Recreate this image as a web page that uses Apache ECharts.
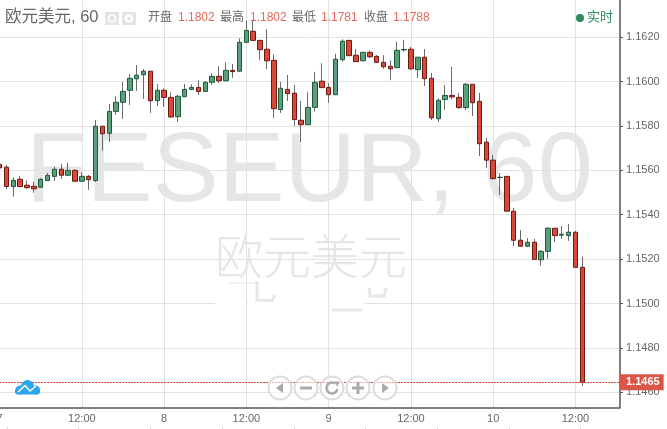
<!DOCTYPE html>
<html>
<head>
<meta charset="utf-8">
<title>欧元美元, 60</title>
<style>
  html, body { margin: 0; padding: 0; background: #fff; }
  #chart { width: 667px; height: 429px; }
</style>
<script src="https://cdn.jsdelivr.net/npm/echarts@6/dist/echarts.min.js"></script>
</head>
<body>
<div id="chart"></div>
<script>
// 小时K线数据
const opens = [1.15627,1.15614,1.15527,1.15560,1.15533,1.15528,1.15524,1.15554,1.15573,1.15605,1.15578,1.15600,1.15551,1.15573,1.15554,1.15799,1.15767,1.15866,1.15907,1.15961,1.16013,1.16031,1.16047,1.15914,1.15961,1.15929,1.15842,1.15932,1.15965,1.15974,1.15956,1.15997,1.16024,1.16004,1.16051,1.16047,1.16177,1.16227,1.16186,1.16146,1.16096,1.15874,1.15965,1.15948,1.15826,1.15806,1.15884,1.16002,1.15974,1.15941,1.16099,1.16186,1.16119,1.16094,1.16132,1.16114,1.16087,1.16069,1.16063,1.16143,1.16146,1.16054,1.16110,1.16015,1.15833,1.15919,1.15938,1.15929,1.15883,1.15988,1.15911,1.15727,1.15646,1.15568,1.15573,1.15416,1.15285,1.15258,1.15276,1.15197,1.15235,1.15339,1.15308,1.15306,1.15321,1.15163];
const closes = [1.15611,1.15527,1.15555,1.15527,1.15522,1.15517,1.15560,1.15578,1.15605,1.15578,1.15600,1.15551,1.15573,1.15558,1.15799,1.15765,1.15866,1.15907,1.15956,1.16015,1.16029,1.16047,1.15914,1.15961,1.15929,1.15841,1.15934,1.15965,1.15974,1.15956,1.15997,1.16024,1.16004,1.16051,1.16045,1.16177,1.16231,1.16186,1.16144,1.16094,1.15878,1.15970,1.15946,1.15829,1.15806,1.15884,1.15997,1.15973,1.15941,1.16101,1.16182,1.16117,1.16090,1.16132,1.16112,1.16087,1.16067,1.16058,1.16141,1.16145,1.16058,1.16110,1.16013,1.15837,1.15916,1.15938,1.15931,1.15883,1.15988,1.15905,1.15720,1.15646,1.15563,1.15569,1.15416,1.15285,1.15258,1.15276,1.15199,1.15235,1.15339,1.15306,1.15312,1.15321,1.15163,1.14645];
const lows = [1.15606,1.15516,1.15481,1.15525,1.15517,1.15499,1.15522,1.15552,1.15552,1.15561,1.15576,1.15549,1.15548,1.15512,1.15548,1.15689,1.15728,1.15850,1.15832,1.15895,1.15958,1.15922,1.15859,1.15890,1.15886,1.15836,1.15818,1.15931,1.15962,1.15940,1.15955,1.15986,1.15994,1.16000,1.16017,1.16045,1.16176,1.16186,1.16098,1.16057,1.15836,1.15859,1.15913,1.15800,1.15728,1.15805,1.15865,1.15973,1.15905,1.15940,1.16090,1.16117,1.16090,1.16093,1.16108,1.16084,1.16058,1.16007,1.16061,1.16135,1.16054,1.16017,1.15980,1.15827,1.15818,1.15872,1.15922,1.15878,1.15872,1.15845,1.15665,1.15611,1.15558,1.15489,1.15416,1.15259,1.15258,1.15256,1.15197,1.15171,1.15201,1.15277,1.15291,1.15282,1.15162,1.14628];
const highs = [1.15633,1.15624,1.15569,1.15575,1.15555,1.15549,1.15564,1.15588,1.15617,1.15629,1.15633,1.15605,1.15591,1.15579,1.15827,1.15800,1.15899,1.15934,1.15998,1.16035,1.16075,1.16057,1.16048,1.15989,1.15970,1.15952,1.15940,1.15989,1.15988,1.16006,1.16002,1.16038,1.16069,1.16087,1.16080,1.16195,1.16275,1.16278,1.16188,1.16237,1.16123,1.15998,1.16030,1.15985,1.15913,1.15952,1.16044,1.16083,1.15993,1.16125,1.16191,1.16188,1.16147,1.16134,1.16141,1.16120,1.16119,1.16096,1.16180,1.16188,1.16156,1.16110,1.16147,1.16039,1.15925,1.15985,1.16066,1.15949,1.15994,1.15988,1.15949,1.15746,1.15669,1.15588,1.15573,1.15431,1.15331,1.15295,1.15291,1.15241,1.15345,1.15340,1.15349,1.15358,1.15327,1.15210];

// 轴刻度
const yTicks = [1.146, 1.148, 1.15, 1.152, 1.154, 1.156, 1.158, 1.16, 1.162];
const timeLabels = ['7', '12:00', '8', '12:00', '9', '12:00', '10', '12:00'];
const slotCount = 91;  // 右边留空的K线位
const hoursPerLabel = 12;
const lastPrice = 1.14645;
const lastPriceText = '1.1465';
const quoteTitle = '欧元美元, 60';
const quoteItems = [['开盘', '1.1802'], ['最高', '1.1802'], ['最低', '1.1781'], ['收盘', '1.1788']];

const upColor = '#5c9e7a';
const upBorder = '#1d5a3c';
const downColor = '#d9493a';
const downBorder = '#6b1a13';
const wickColor = '#6a6a6a';
const cjk = '"Liberation Sans", "Noto Sans CJK SC", sans-serif';

const categories = [];
for (let i = 0; i < slotCount; i++) categories.push(String(i));

// 影线一层，实体一层，这样影线可以用灰色
const wickData = opens.map((o, i) => [o, closes[i], lows[i], highs[i]]);
const bodyData = opens.map((o, i) => {
  const c = closes[i];
  return [o, c, Math.min(o, c), Math.max(o, c)];
});

const isMajor = (i) => i % hoursPerLabel === 0;

// 顶部行情文字
const quoteX = [[148, 178], [220, 250], [292, 321], [364, 393]];
const headerEls = [
  { type: 'text', x: 5, y: 9, z: 20, style: { text: quoteTitle, fill: '#666', font: '16.5px ' + cjk } }
];
quoteItems.forEach((item, i) => {
  headerEls.push({ type: 'text', x: quoteX[i][0], y: 12, z: 20, style: { text: item[0], fill: '#666', font: '12px ' + cjk } });
  headerEls.push({ type: 'text', x: quoteX[i][1], y: 12, z: 20, style: { text: item[1], fill: '#e2675a', font: '12px ' + cjk } });
});
headerEls.push(
  { type: 'rect', z: 20, shape: { x: 105, y: 12, width: 14, height: 13 }, style: { fill: '#e4e4e4' } },
  { type: 'circle', z: 21, shape: { cx: 112, cy: 18.5, r: 3.5 }, style: { fill: 'none', stroke: '#fff', lineWidth: 1.5 } },
  { type: 'rect', z: 20, shape: { x: 122, y: 12, width: 14, height: 13 }, style: { fill: '#e4e4e4' } },
  { type: 'circle', z: 21, shape: { cx: 129, cy: 18.5, r: 3 }, style: { fill: 'none', stroke: '#fff', lineWidth: 2.5 } },
  { type: 'circle', z: 20, shape: { cx: 580, cy: 18, r: 4 }, style: { fill: '#2e8b5c' } },
  { type: 'text', x: 587, y: 11, z: 20, style: { text: '实时', fill: '#2e8b5c', font: '13px ' + cjk } }
);

// 水印
const markColor = '#e6e6e6';
const watermarkEls = [
  { type: 'text', x: 26, y: 124, z: -2, style: { text: 'FESEUR, 60', fill: markColor, font: '99px "Liberation Sans", sans-serif' } },
  { type: 'text', x: 215, y: 232, z: -2, style: { text: '欧元美元', fill: markColor, font: '300 48px "Noto Sans CJK SC", sans-serif' } },
  { type: 'line', z: -2, shape: { x1: 228, y1: 283, x2: 255, y2: 283 }, style: { stroke: markColor, lineWidth: 1 } },
  { type: 'polyline', z: -2, shape: { points: [[257, 281], [257, 300], [272, 301], [275, 295]] }, style: { fill: 'none', stroke: markColor, lineWidth: 3 } },
  { type: 'line', z: -2, shape: { x1: 332, y1: 310, x2: 362, y2: 310 }, style: { stroke: markColor, lineWidth: 3 } },
  { type: 'polyline', z: -2, shape: { points: [[369, 288], [370, 296], [384, 296], [386, 288]] }, style: { fill: 'none', stroke: markColor, lineWidth: 3 } }
];
// 1.1500 的网格线在水印下面断开一段
[[215, 246], [248, 328], [329, 365]].forEach((g) => {
  watermarkEls.push({ type: 'rect', z: 1, shape: { x: g[0], y: 302, width: g[1] - g[0], height: 3 }, style: { fill: '#fff' } });
});

// 缩放按钮和logo
const btnCenters = [280, 306, 332, 358, 385];
const btnY = 388;
const btnGrey = '#aaa';
const navEls = [];
btnCenters.forEach((cx) => {
  navEls.push({ type: 'circle', z: 20, shape: { cx: cx, cy: btnY, r: 11.5 }, style: { fill: 'rgba(255,255,255,0.55)', stroke: '#ddd', lineWidth: 2 } });
});
navEls.push(
  { type: 'polygon', z: 21, shape: { points: [[276, btnY], [283, btnY - 5], [283, btnY + 5]] }, style: { fill: btnGrey } },
  { type: 'rect', z: 21, shape: { x: 300, y: btnY - 1.5, width: 12, height: 3 }, style: { fill: btnGrey } },
  { type: 'arc', z: 21, shape: { cx: 332, cy: btnY, r: 5.5, startAngle: 0.2, endAngle: 5.4 }, style: { fill: 'none', stroke: btnGrey, lineWidth: 2.5 } },
  { type: 'polygon', z: 21, shape: { points: [[335, btnY - 7], [340, btnY - 6], [337, btnY - 1]] }, style: { fill: btnGrey } },
  { type: 'rect', z: 21, shape: { x: 352, y: btnY - 1.5, width: 12, height: 3 }, style: { fill: btnGrey } },
  { type: 'rect', z: 21, shape: { x: 356.5, y: btnY - 6, width: 3, height: 12 }, style: { fill: btnGrey } },
  { type: 'polygon', z: 21, shape: { points: [[382, btnY - 5], [382, btnY + 5], [389, btnY]] }, style: { fill: btnGrey } },
  // 云朵logo
  { type: 'rect', z: 21, shape: { x: 15, y: 388, width: 25, height: 6.5, r: 3 }, style: { fill: '#2ba6e9' } },
  { type: 'circle', z: 21, shape: { cx: 27.5, cy: 386.5, r: 6.5 }, style: { fill: '#2ba6e9' } },
  { type: 'circle', z: 21, shape: { cx: 20, cy: 390, r: 4.5 }, style: { fill: '#2ba6e9' } },
  { type: 'circle', z: 21, shape: { cx: 35.5, cy: 390, r: 4.5 }, style: { fill: '#2ba6e9' } },
  { type: 'polyline', z: 22, shape: { points: [[18, 392], [25, 385.5], [30, 391], [36, 386]] }, style: { fill: 'none', stroke: '#fff', lineWidth: 1.5 } }
);

// 底部滑块的小刻度
const sliderEls = [];
for (let i = 0; i < 9; i++) {
  const x = Math.round(6.7 + i * 71.7) + 0.5;
  sliderEls.push({ type: 'line', z: 5, shape: { x1: x, y1: 427, x2: x, y2: 429 }, style: { stroke: '#cfd3dc', lineWidth: 1 } });
}

const myCharts = echarts.init(document.getElementById('chart'));
myCharts.setOption({
  animation: false,
  backgroundColor: '#fff',
  grid: { left: -3.83, width: 623.83, top: 0, height: 407.3, outerBoundsMode: 'none' },
  xAxis: {
    type: 'category',
    data: categories,
    boundaryGap: true,
    axisLine: { lineStyle: { color: '#555', width: 1.5 } },
    axisTick: { alignWithLabel: true, interval: (i) => isMajor(i), length: 3, lineStyle: { color: '#555' } },
    axisLabel: {
      interval: (i) => isMajor(i),
      formatter: (v, i) => timeLabels[i / hoursPerLabel] || '',
      color: '#666',
      fontSize: 11,
      fontFamily: 'Liberation Sans',
      margin: 6,
      showMinLabel: true
    },
    splitLine: { show: true, alignWithLabel: true, interval: (i) => isMajor(i), lineStyle: { color: '#e2e2e2', width: 1 } }
  },
  yAxis: {
    type: 'value',
    position: 'right',
    scale: true,
    min: 1.14532,
    max: 1.16368,
    axisLine: { show: true, lineStyle: { color: '#555', width: 1.5 } },
    axisTick: { show: true, length: 3, customValues: yTicks, lineStyle: { color: '#555' } },
    axisLabel: {
      customValues: yTicks,
      formatter: (v) => v.toFixed(4),
      color: '#666',
      fontSize: 11,
      fontFamily: 'Liberation Sans',
      margin: 6
    },
    splitLine: { show: true, lineStyle: { color: '#e2e2e2', width: 1 } }
  },
  series: [
    {
      name: 'wick',
      type: 'candlestick',
      barWidth: 1,
      z: 3,
      data: wickData,
      itemStyle: { color: wickColor, color0: wickColor, borderColor: wickColor, borderColor0: wickColor, borderWidth: 1 }
    },
    {
      name: 'body',
      type: 'candlestick',
      barWidth: 5,
      z: 4,
      data: bodyData,
      // 这里收盘高于开盘是绿色
      itemStyle: { color: upColor, color0: downColor, borderColor: upBorder, borderColor0: downBorder, borderWidth: 1 },
      markLine: {
        silent: true,
        symbol: 'none',
        animation: false,
        precision: 5,
        data: [{ yAxis: lastPrice }],
        lineStyle: { color: '#c9402f', type: [2, 1], width: 1 },
        label: {
          position: 'end',
          formatter: lastPriceText,
          color: '#fff',
          fontSize: 11,
          fontWeight: 'bold',
          fontFamily: 'Liberation Sans',
          backgroundColor: '#dd5546',
          padding: [3, 4, 2, 6],
          distance: 0
        }
      }
    }
  ],
  graphic: { elements: [...watermarkEls, ...headerEls, ...navEls, ...sliderEls] }
});
</script>
</body>
</html>
